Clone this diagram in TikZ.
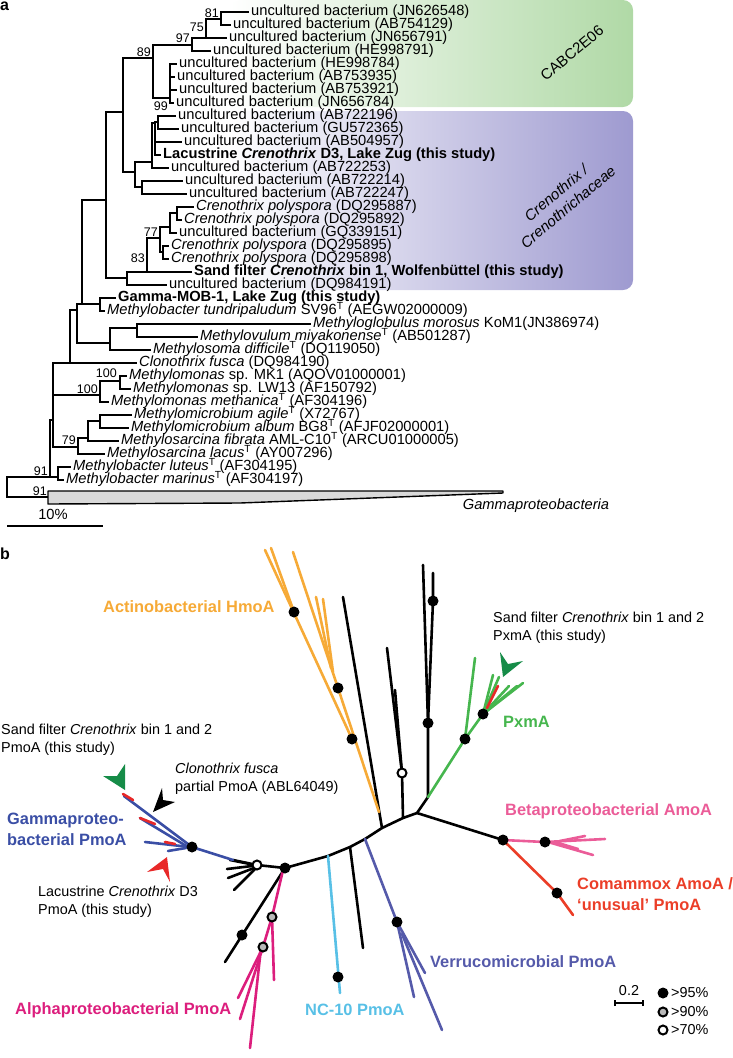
\documentclass[tikz,border=0pt]{standalone}
\usepackage{fontspec}
\setmainfont{Liberation Sans}
\definecolor{cOrange}{RGB}{246,170,55}
\definecolor{cGreen}{RGB}{70,182,78}
\definecolor{cDkGreen}{RGB}{22,140,72}
\definecolor{cRed}{RGB}{232,40,40}
\definecolor{cGamma}{RGB}{58,78,165}
\definecolor{cVerr}{RGB}{85,90,170}
\definecolor{cCyan}{RGB}{88,192,230}
\definecolor{cAlpha}{RGB}{220,30,125}
\definecolor{cBeta}{RGB}{235,92,152}
\definecolor{cComa}{RGB}{235,62,40}
\definecolor{boxGreen}{RGB}{176,217,166}
\definecolor{boxPurple}{RGB}{158,154,208}
\newcommand{\supT}{\textsuperscript{T}}
\newcommand{\tvl}[3]{\draw[tr] (#1,#2) -- (#1,#3);}
\newcommand{\thl}[3]{\draw[tr] (#1,#2) -- (#3,#2);}
\newcommand{\tlf}[2]{\draw[tr] (#1,0 |- L#2.west) -- ([xshift=-3pt]L#2.west);}
\tikzset{
  tr/.style={line width=1.8pt, line cap=rect},
  lab/.style={anchor=west, inner sep=0pt, text height=9.5pt, text depth=2.5pt, font=\fontsize{14.7}{15}\selectfont},
  bs/.style={inner sep=0pt, text height=8.5pt, text depth=0pt, font=\fontsize{12.5}{13}\selectfont},
  br/.style={line width=2.6pt, line cap=round},
  dotb/.style={circle, fill=black, inner sep=0pt, minimum size=11pt},
  dotg/.style={circle, fill=gray!55, draw=black, line width=2pt, inner sep=0pt, minimum size=9pt},
  doto/.style={circle, fill=white, draw=black, line width=2pt, inner sep=0pt, minimum size=9pt},
  blab/.style={anchor=west, inner sep=0pt, align=left, font=\fontsize{16.4}{21}\selectfont\bfseries},
  rlab/.style={anchor=west, inner sep=0pt, align=left, font=\fontsize{14.4}{17.5}\selectfont},
}
\begin{document}
\begin{tikzpicture}[x=1pt,y=-1pt]
\useasboundingbox (0,0) rectangle (733,1058);
% ---------- panel a ----------
\shade[left color=white, right color=boxGreen, rounded corners=10pt] (230,0) rectangle (633,107);
\shade[left color=white, right color=boxPurple, rounded corners=10pt] (230,111) rectangle (633,290);
\node[font=\fontsize{15}{15}\selectfont, rotate=40] (cabc) at (572,53) {CABC2E06};
\node[font=\fontsize{15}{15}\selectfont\itshape, rotate=40, inner sep=0pt] (cren1) at (556,193) {Crenothrix /};
\node[font=\fontsize{15}{15}\selectfont\itshape, rotate=40, inner sep=0pt] (cren2) at (568,207) {Crenothrichaceae};
\node[anchor=north west, inner sep=0pt, font=\fontsize{16}{16}\selectfont\bfseries] (pa) at (0,2) {a};

\node[lab] (L1) at (251,12) {uncultured bacterium (JN626548)};
\node[lab] (L2) at (233,25) {uncultured bacterium (AB754129)};
\node[lab] (L3) at (229,38) {uncultured bacterium (JN656791)};
\node[lab] (L4) at (213,51) {uncultured bacterium (HE998791)};
\node[lab] (L5) at (179,64) {uncultured bacterium (HE998784)};
\node[lab] (L6) at (177,77) {uncultured bacterium (AB753935)};
\node[lab] (L7) at (179,90) {uncultured bacterium (AB753921)};
\node[lab] (L8) at (176,103) {uncultured bacterium (JN656784)};
\node[lab] (L9) at (178,116) {uncultured bacterium (AB722196)};
\node[lab] (L10) at (181,129) {uncultured bacterium (GU572365)};
\node[lab] (L11) at (184,142) {uncultured bacterium (AB504957)};
\node[lab] (L12) at (163,155) {\bfseries Lacustrine \textit{Crenothrix} D3, Lake Zug (this study)};
\node[lab] (L13) at (171,168) {uncultured bacterium (AB722253)};
\node[lab] (L14) at (185,181) {uncultured bacterium (AB722214)};
\node[lab] (L15) at (189,194) {uncultured bacterium (AB722247)};
\node[lab] (L16) at (196,207) {\textit{Crenothrix polyspora} (DQ295887)};
\node[lab] (L17) at (184,220) {\textit{Crenothrix polyspora} (DQ295892)};
\node[lab] (L18) at (179,233) {uncultured bacterium (GQ339151)};
\node[lab] (L19) at (171,246) {\textit{Crenothrix polyspora} (DQ295895)};
\node[lab] (L20) at (171,259) {\textit{Crenothrix polyspora} (DQ295898)};
\node[lab] (L21) at (194,272) {\bfseries Sand filter \textit{Crenothrix} bin 1, Wolfenbüttel (this study)};
\node[lab] (L22) at (169,285) {uncultured bacterium (DQ984191)};
\node[lab] (L23) at (118,298) {\bfseries Gamma-MOB-1, Lake Zug (this study)};
\node[lab] (L24) at (107,311) {\textit{Methylobacter tundripaludum} SV96\supT{} (AEGW02000009)};
\node[lab] (L25) at (313,324) {\textit{Methyloglobulus morosus} KoM1(JN386974)};
\node[lab] (L26) at (200,337) {\textit{Methylovulum miyakonense}\supT{} (AB501287)};
\node[lab] (L27) at (153,350) {\textit{Methylosoma difficile}\supT{} (DQ119050)};
\node[lab] (L28) at (139,363) {\textit{Clonothrix fusca} (DQ984190)};
\node[lab] (L29) at (129,376) {\textit{Methylomonas} sp. MK1 (AQOV01000001)};
\node[lab] (L30) at (133,389) {\textit{Methylomonas} sp. LW13 (AF150792)};
\node[lab] (L31) at (111,402) {\textit{Methylomonas methanica}\supT{} (AF304196)};
\node[lab] (L32) at (134,415) {\textit{Methylomicrobium agile}\supT{} (X72767)};
\node[lab] (L33) at (131,428) {\textit{Methylomicrobium album} BG8\supT{} (AFJF02000001)};
\node[lab] (L34) at (121,441) {\textit{Methylosarcina fibrata} AML-C10\supT{} (ARCU01000005)};
\node[lab] (L35) at (107,454) {\textit{Methylosarcina lacus}\supT{} (AY007296)};
\node[lab] (L36) at (73,467) {\textit{Methylobacter luteus}\supT{} (AF304195)};
\node[lab] (L37) at (66,480) {\textit{Methylobacter marinus}\supT{} (AF304197)};

% tree a: verticals
\tvl{221}{12}{25} \tvl{206}{19}{38} \tvl{192}{38}{51} \tvl{153}{45}{98}
\tvl{170}{64}{103} \tvl{123}{58}{172} \tvl{135}{162}{187} \tvl{152}{123}{168}
\tvl{155}{122}{155} \tvl{158}{116}{129} \tvl{142}{181}{194} \tvl{106}{112}{278}
\tvl{127}{272}{285} \tvl{147}{238}{272} \tvl{160}{227}{252} \tvl{170}{213}{233}
\tvl{177}{207}{220} \tvl{163}{246}{259} \tvl{82}{200}{304} \tvl{100}{298}{311}
\tvl{77}{304}{343} \tvl{110}{328}{350} \tvl{137}{324}{337} \tvl{70}{310}{363}
\tvl{53}{363}{447} \tvl{100}{381}{402} \tvl{120}{376}{389} \tvl{78}{438}{454}
\tvl{88}{421}{441} \tvl{100}{415}{428} \tvl{58}{467}{480} \tvl{50}{420}{477}
\tvl{7}{477}{497}
% internal horizontals
\thl{206}{19}{221} \thl{192}{38}{206} \thl{153}{45}{192} \thl{123}{58}{153}
\thl{153}{98}{170} \thl{123}{172}{135} \thl{135}{162}{152} \thl{135}{187}{142}
\thl{152}{123}{155} \thl{155}{122}{158} \thl{106}{112}{123} \thl{82}{200}{106}
\thl{106}{278}{127} \thl{127}{272}{147} \thl{147}{238}{160} \thl{160}{227}{170}
\thl{160}{252}{163} \thl{170}{213}{177} \thl{77}{304}{100} \thl{77}{343}{110}
\thl{110}{328}{137} \thl{70}{310}{77} \thl{53}{363}{70} \thl{53}{395}{100}
\thl{53}{447}{78} \thl{100}{381}{120} \thl{78}{438}{88} \thl{88}{421}{100}
\thl{50}{420}{53} \thl{50}{477}{58} \thl{7}{477}{50} \thl{7}{497}{48}
% leaf branches
\tlf{221}{1} \tlf{221}{2} \tlf{206}{3} \tlf{192}{4}
\tlf{170}{5} \tlf{170}{6} \tlf{170}{7} \tlf{170}{8}
\tlf{158}{9} \tlf{158}{10} \tlf{155}{11} \tlf{155}{12} \tlf{152}{13}
\tlf{142}{14} \tlf{142}{15} \tlf{177}{16} \tlf{177}{17} \tlf{170}{18}
\tlf{163}{19} \tlf{163}{20} \tlf{147}{21} \tlf{127}{22} \tlf{100}{23} \tlf{100}{24}
\tlf{137}{25} \tlf{137}{26} \tlf{110}{27} \tlf{70}{28} \tlf{120}{29} \tlf{120}{30}
\tlf{100}{31} \tlf{100}{32} \tlf{100}{33} \tlf{88}{34} \tlf{78}{35} \tlf{58}{36} \tlf{58}{37}
% collapsed clade
\filldraw[fill=gray!30, draw=black, line width=1.4pt, line join=round] (48,491) -- (503,491) -- (503,493) -- (240,503) -- (48,504) -- cycle;
\node[lab, anchor=center, font=\fontsize{14.7}{15}\selectfont\itshape] (gprot) at (536,506) {Gammaproteobacteria};
% bootstrap values
\node[bs, anchor=east] (b81) at (219,13) {81};
\node[bs, anchor=east] (b75) at (204,27) {75};
\node[bs, anchor=east] (b97) at (190,38) {97};
\node[bs, anchor=east] (b89) at (151,52) {89};
\node[bs, anchor=east] (b99) at (168,106) {99};
\node[bs, anchor=east] (b77) at (158,232) {77};
\node[bs, anchor=east] (b83) at (145,258) {83};
\node[bs, anchor=east] (b100a) at (117,373) {100};
\node[bs, anchor=east] (b100b) at (98,389) {100};
\node[bs, anchor=east] (b79) at (76,440) {79};
\node[bs, anchor=east] (b91a) at (48,471) {91};
\node[bs, anchor=east] (b91b) at (47,491) {91};
% scale bar
\coordinate (sa) at (7,526); \coordinate (sb) at (103,526);
\draw[line width=1.6pt] (sa) -- (sb);
\node[lab, anchor=center] (s10) at (53,516) {10\%};

% ---------- panel b ----------
\node[anchor=north west, inner sep=0pt, font=\fontsize{16}{16}\selectfont\bfseries] (pb) at (0,548) {b};
\coordinate (J1) at (417,813);
\coordinate (Jg) at (428,797);
\coordinate (q1) at (233,860);
\coordinate (bb1) at (328,856);
\coordinate (bb2) at (350,847);
\coordinate (bb3) at (365,839);
\coordinate (bb4) at (382,828);
\coordinate (bb5) at (403,818);
\coordinate (ob) at (379,812);
% black backbone and branches
\draw[br] (q1) -- (257,865) -- (285,868) -- (bb1) -- (bb2) -- (bb3) -- (bb4) -- (bb5) -- (J1) -- (Jg);
\draw[br] (J1) -- (503,840);
\draw[br] (bb4) -- (343,597);
\draw[br] (bb5) -- (402,773) -- (387,648);
\draw[br] (402,773) -- (395,690);
\draw[br] (Jg) -- (428,723) -- (423,565);
\draw[br] (428,723) -- (433,601) -- (433,573);
\draw[br] (250,864) -- (230,860);
\draw[br] (252,866) -- (227,869);
\draw[br] (254,868) -- (228,878);
\draw[br] (257,867) -- (234,890);
\draw[br] (285,868) -- (225,962);
\draw[br] (bb2) -- (363,948);
% orange
\draw[br, cOrange] (ob) -- (293,552);
\draw[br, cOrange] (352,739) -- (265,550);
\draw[br, cOrange] (294,612) -- (271,548);
\draw[br, cOrange] (331,668) -- (316,597);
\draw[br, cOrange] (333,672) -- (323,599);
% green PxmA
\draw[br, cGreen] (Jg) -- (465,739) -- (483,714);
\draw[br, cGreen] (465,739) -- (475,658);
\draw[br, cGreen] (483,714) -- (493,675);
\draw[br, cGreen] (483,714) -- (499,677);
\draw[br, cGreen] (483,714) -- (509,686);
\draw[br, cGreen] (483,714) -- (517,686);
\draw[br, cGreen] (483,714) -- (523,683);
\draw[br, cRed] (487,708) -- (498,686);
% beta / comammox
\draw[br, cBeta] (503,840) -- (545,842) -- (605,839);
\draw[br, cBeta] (548,842) -- (593,855);
\draw[br, cBeta] (555,842) -- (578,849);
\draw[br, cBeta] (560,841) -- (585,836);
\draw[br, cComa] (503,840) -- (557,893) -- (573,915);
% gamma PmoA
\draw[br, cGamma] (q1) -- (192,847) -- (124,796);
\draw[br, cGamma] (190,847) -- (145,842);
\draw[br, cGamma] (188,847) -- (140,818);
\draw[br, cGamma] (186,848) -- (168,851);
\draw[br, cRed] (123,794) -- (133,800);
\draw[br, cRed] (140,818) -- (155,824);
\draw[br, cRed] (165,842) -- (175,844);
% alpha
\draw[br, cAlpha] (283,870) -- (272,917) -- (263,947) -- (238,998);
\draw[br, cAlpha] (263,947) -- (240,1019);
\draw[br, cAlpha] (260,957) -- (250,1048);
\draw[br, cAlpha] (272,917) -- (274,980);
% NC-10
\draw[br, cCyan] (bb1) -- (340,993);
% verruco
\draw[br, cVerr] (bb3) -- (397,922) -- (425,973);
\draw[br, cVerr] (397,922) -- (414,997);
\draw[br, cVerr] (402,934) -- (442,1030);
% dots
\foreach \p/\n in {(294,612)/o1,(338,688)/o2,(352,739)/o3,(428,723)/k1,(433,601)/k2,(465,739)/g1,(483,714)/g2,(192,847)/m1,(285,868)/k3,(242,935)/k4,(338,977)/c1,(397,922)/v1,(503,840)/be1,(545,842)/be2,(557,893)/co1}
  \node[dotb] (\n) at \p {};
\node[dotg] (a1) at (272,917) {};
\node[dotg] (a2) at (263,947) {};
\node[doto] (w1) at (257,865) {};
\node[doto] (w2) at (402,773) {};
% arrowheads
\fill[cDkGreen] (503,677) -- (500,652) -- (508,664) -- (523,661) -- cycle;
\fill[cDkGreen] (125,790) -- (103,776) -- (117,776) -- (125,764) -- cycle;
\fill[black] (153,812) -- (162,788) -- (163,800) -- (175,802) -- cycle;
\fill[cRed] (167,857) -- (147,872) -- (163,869) -- (170,882) -- cycle;
% labels
\node[blab, text=cOrange] (lact) at (103,607) {Actinobacterial HmoA};
\node[rlab] (lsf1) at (1,740) {Sand filter \textit{Crenothrix} bin 1 and 2\\PmoA (this study)};
\node[rlab] (lclo) at (175,779) {\textit{Clonothrix fusca}\\partial PmoA (ABL64049)};
\node[blab, text=cGamma] (lgam) at (7,829.5) {Gammaproteo-\\bacterial PmoA};
\node[rlab] (llac) at (38,902) {Lacustrine \textit{Crenothrix} D3\\PmoA (this study)};
\node[blab, text=cAlpha] (lalp) at (15,1010) {Alphaproteobacterial PmoA};
\node[blab, text=cCyan] (lnc) at (305,1010) {NC-10 PmoA};
\node[blab, text=cVerr] (lver) at (430,962) {Verrucomicrobial PmoA};
\node[blab, text=cBeta] (lbet) at (505,811) {Betaproteobacterial AmoA};
\node[blab, text=cComa] (lcom) at (577,894.5) {Comammox AmoA /\\‘unusual’ PmoA};
\node[blab, text=cGreen] (lpxm) at (503,722) {PxmA};
\node[rlab] (lsf2) at (493,628) {Sand filter \textit{Crenothrix} bin 1 and 2\\PxmA (this study)};
% legend
\coordinate (sc1) at (615,1003); \coordinate (sc2) at (643,1003);
\draw[line width=1.3pt] (sc1) -- (sc2);
\draw[line width=1.3pt] ([yshift=-3pt]sc1) -- ([yshift=3pt]sc1);
\draw[line width=1.3pt] ([yshift=-3pt]sc2) -- ([yshift=3pt]sc2);
\node[rlab, anchor=center] (l02) at (629,991) {0.2};
\node[dotb] (e1) at (663,993) {};
\node[dotg] (e2) at (663,1012) {};
\node[doto] (e3) at (663,1030) {};
\node[rlab] (t1) at (671,993) {>95\%};
\node[rlab] (t2) at (671,1012) {>90\%};
\node[rlab] (t3) at (671,1030) {>70\%};
\end{tikzpicture}
\end{document}
